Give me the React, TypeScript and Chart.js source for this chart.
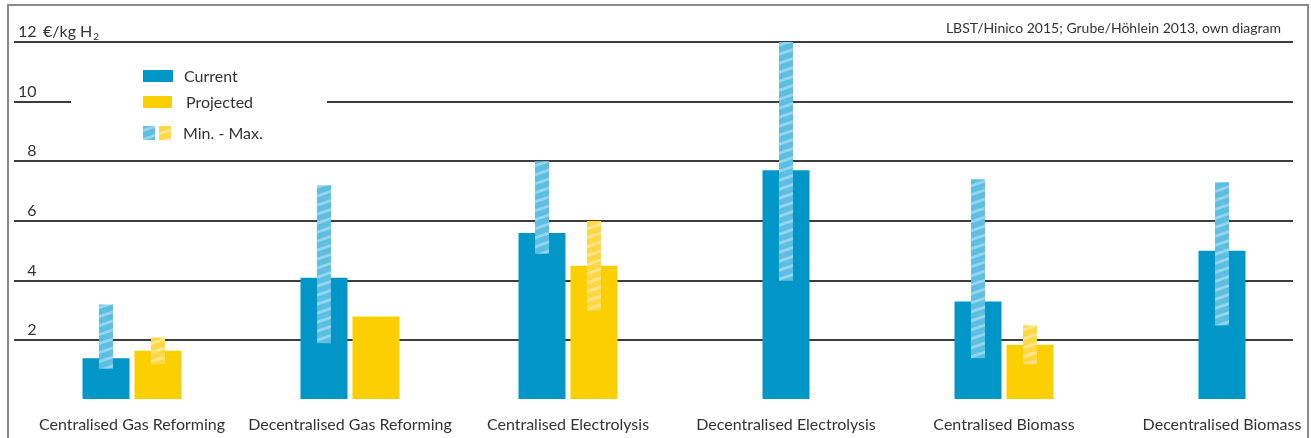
import React, { useEffect, useRef } from "react";
import { Chart, registerables } from "chart.js";

Chart.register(...registerables);

const categories = [
  "Centralised Gas Reforming",
  "Decentralised Gas Reforming",
  "Centralised Electrolysis",
  "Decentralised Electrolysis",
  "Centralised Biomass",
  "Decentralised Biomass",
];
const current = [1.4, 4.1, 5.6, 7.7, 3.3, 5.0];
const projected: (number | null)[] = [1.65, 2.8, 4.5, null, 1.85, null];
const currentMin = [1.05, 1.9, 4.9, 4.0, 1.4, 2.5];
const currentMax = [3.2, 7.2, 8.0, 12.0, 7.4, 7.3];
const projectedMin: (number | null)[] = [1.2, null, 3.0, null, 1.2, null];
const projectedMax: (number | null)[] = [2.1, null, 6.0, null, 2.5, null];
const yTicks = [0, 2, 4, 6, 8, 10, 12];
const unitLabel = "€/kg H";
const unitSub = "2";
const sourceText = "LBST/Hinico 2015; Grube/Höhlein 2013, own diagram";
const legendCurrent = "Current";
const legendProjected = "Projected";
const legendRange = "Min. - Max.";

const FONT = "Lato, 'Open Sans', sans-serif";
const TEXT = "#333333";
const BLUE = "#0096c8";
const YELLOW = "#fccf00";

function stripePattern(base: string, stripe: string): CanvasPattern {
  const c = document.createElement("canvas");
  const w = 26;
  const h = 9;
  c.width = w;
  c.height = h;
  const g = c.getContext("2d")!;
  g.fillStyle = base;
  g.fillRect(0, 0, w, h);
  g.strokeStyle = stripe;
  g.lineWidth = 2.8;
  for (const dy of [-h, 0, h]) {
    g.beginPath();
    g.moveTo(-2, h + dy + (2 * h) / w);
    g.lineTo(w + 2, dy - (2 * h) / w);
    g.stroke();
  }
  return g.createPattern(c, "repeat")!;
}

export default function App() {
  const ref = useRef<HTMLCanvasElement | null>(null);

  useEffect(() => {
    const canvas = ref.current;
    if (!canvas) return;
    const blueHatch = stripePattern("#5cbfe2", "#95d5ee");
    const yellowHatch = stripePattern("#fdd843", "#fee690");

    const decorPlugin = {
      id: "decor",
      beforeDatasetsDraw(chart: any) {
        const { ctx } = chart;
        const y = chart.scales.y;
        const p10 = y.getPixelForValue(10);
        ctx.save();
        ctx.fillStyle = "#ffffff";
        ctx.fillRect(71, p10 - 3, 256, 6);
        ctx.restore();
      },
      afterDraw(chart: any) {
        const { ctx } = chart;
        const y = chart.scales.y;
        ctx.save();
        const p12 = y.getPixelForValue(12);
        ctx.fillStyle = TEXT;
        ctx.textBaseline = "alphabetic";
        ctx.textAlign = "left";
        ctx.font = `16px ${FONT}`;
        ctx.fillText(unitLabel, 43, p12 - 5);
        const uw = ctx.measureText(unitLabel).width;
        ctx.font = `10px ${FONT}`;
        ctx.fillText(unitSub, 43 + uw + 1, p12 - 2);
        ctx.font = `14px ${FONT}`;
        ctx.textAlign = "right";
        ctx.fillText(sourceText, 1281, 33);
        ctx.textAlign = "left";
        ctx.fillStyle = BLUE;
        ctx.fillRect(143, 70, 30, 12);
        ctx.fillStyle = YELLOW;
        ctx.fillRect(143, 96, 29, 12);
        ctx.fillStyle = blueHatch;
        ctx.fillRect(143, 126, 12, 14);
        ctx.fillStyle = yellowHatch;
        ctx.fillRect(159, 126, 12, 14);
        ctx.fillStyle = TEXT;
        ctx.font = `16px ${FONT}`;
        ctx.fillText(legendCurrent, 184, 82);
        ctx.fillText(legendProjected, 186, 108);
        ctx.fillText(legendRange, 183, 139);
        ctx.strokeStyle = "#8a8a8a";
        ctx.lineWidth = 2;
        ctx.strokeRect(8, 5, 1300, 480);
        ctx.restore();
      },
    };

    const common = { categoryPercentage: 0.477, skipNull: true };
    const chart = new Chart(canvas, {
      type: "bar",
      data: {
        datasets: [
          {
            label: "Current min-max",
            data: categories.map((_, i) => ({ x: i, y: [currentMin[i], currentMax[i]] })) as any,
            backgroundColor: blueHatch as any,
            stack: "c",
            barPercentage: 0.27,
            maxBarThickness: 14,
            ...common,
          },
          {
            label: "Projected min-max",
            data: categories.map((_, i) => ({
              x: i,
              y: projectedMin[i] == null ? null : [projectedMin[i], projectedMax[i]],
            })) as any,
            backgroundColor: yellowHatch as any,
            stack: "p",
            barPercentage: 0.27,
            maxBarThickness: 14,
            ...common,
          },
          {
            label: legendCurrent,
            data: categories.map((_, i) => ({ x: i, y: current[i] })) as any,
            backgroundColor: BLUE,
            stack: "c",
            barPercentage: 0.904,
            maxBarThickness: 47,
            ...common,
          },
          {
            label: legendProjected,
            data: categories.map((_, i) => ({ x: i, y: projected[i] })) as any,
            backgroundColor: YELLOW,
            stack: "p",
            barPercentage: 0.904,
            maxBarThickness: 47,
            ...common,
          },
        ],
      },
      options: {
        responsive: false,
        animation: false,
        layout: { padding: { left: 14, right: 18, top: 42, bottom: 0 } },
        plugins: { legend: { display: false }, tooltip: { enabled: false } },
        scales: {
          x: {
            type: "linear",
            offset: false,
            min: -0.5413,
            max: 5.3257,
            grid: { display: false, offset: false },
            border: { display: false },
            afterBuildTicks: (s: any) => {
              s.ticks = categories.map((_, i) => ({ value: i }));
            },
            afterFit: (s: any) => {
              s.height = 38;
              s.paddingLeft = 0;
              s.paddingRight = 0;
            },
            ticks: {
              autoSkip: false,
              maxRotation: 0,
              minRotation: 0,
              padding: 7,
              color: TEXT,
              font: { family: FONT, size: 16 },
              callback: (v: any) => categories[v as number] ?? "",
            },
          },
          y: {
            min: 0,
            max: 12,
            stacked: false,
            afterBuildTicks: (s: any) => {
              s.ticks = yTicks.map((v) => ({ value: v }));
            },
            afterFit: (s: any) => {
              s.width = 0;
            },
            grid: {
              color: (c: any) => (c.tick && c.tick.value === 0 ? "rgba(0,0,0,0)" : "#3d3d3d"),
              lineWidth: 2,
              drawTicks: false,
            },
            border: { display: false },
            ticks: {
              mirror: true,
              crossAlign: "far",
              padding: 4,
              labelOffset: -10,
              color: TEXT,
              font: { family: FONT, size: 16 },
              callback: (v: any) => (v === 0 ? "" : String(v)),
            },
          },
        },
      } as any,
      plugins: [decorPlugin],
    });
    return () => chart.destroy();
  }, []);

  return (
    <div style={{ position: "absolute", left: 0, top: 0, width: 1311, height: 438, background: "#fff" }}>
      <canvas ref={ref} width={1311} height={438} style={{ display: "block" }} />
    </div>
  );
}
